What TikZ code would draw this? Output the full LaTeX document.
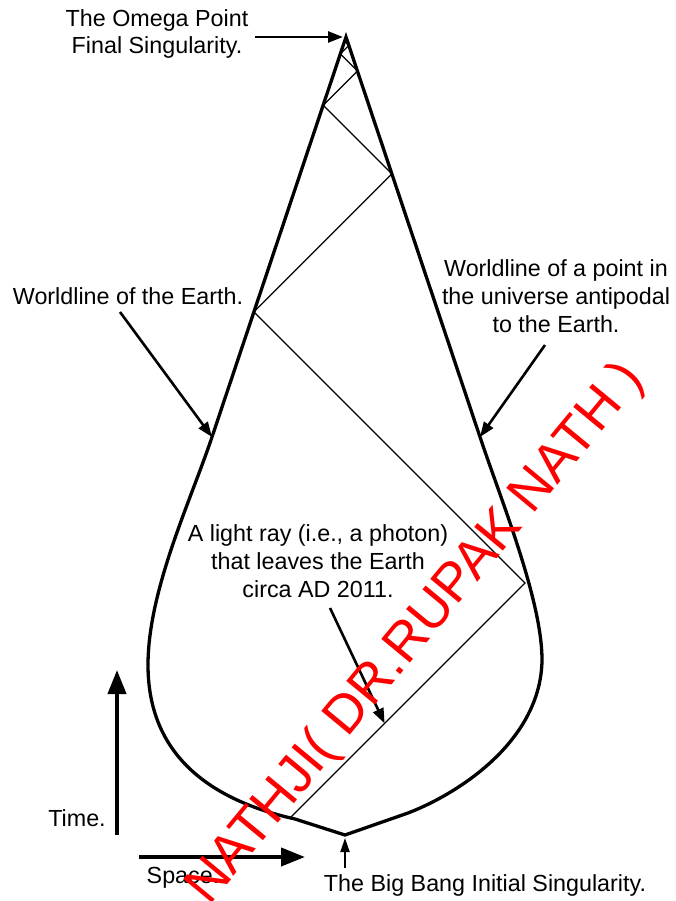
\documentclass[tikz,border=0pt]{standalone}
\usepackage{fontspec}
\setmainfont{Liberation Sans}
\usetikzlibrary{arrows.meta,calc}
\definecolor{wmred}{HTML}{FF0000}
\tikzset{
world/.style={line width=3.3pt,line join=miter},
ray/.style={line width=1.2pt},
lbl/.style={align=center,inner sep=0pt,font=\fontsize{23.3}{27.8}\selectfont},
callout/.style={-{Triangle[length=15pt,width=11pt]},line width=2.6pt},
axis/.style={-{Triangle[length=24pt,width=18pt]},line width=4pt},
tick/.style={-{Triangle[length=14pt,width=9pt]},line width=2pt},
wmark/.style={text=wmred,font=\fontsize{54}{62}\selectfont,anchor=base,rotate=50.4,inner sep=0pt}
}

\begin{document}
\begin{tikzpicture}[x=1pt,y=-1pt]
\useasboundingbox (0,0) rectangle (675,901);
\coordinate (apex) at (346,37);
\coordinate (cusp) at (345,835);
\coordinate (earthpt) at (212,437);
\coordinate (antipt) at (480,437);
\draw[world] (apex) -- (earthpt) .. controls (191,500) and (148,590) .. (148,665)
  .. controls (148,755) and (210,800) .. (295,819) -- (cusp) -- (408,813)
  .. controls (460,793) and (541,740) .. (542,660)
  .. controls (542,600) and (501,500) .. (antipt) -- cycle;
% light ray bouncing between the two worldlines
\coordinate (b0) at (291,817);
\coordinate (b1) at (525,583);
\coordinate (b2) at (253.9,311.9);
\coordinate (b3) at (391.9,173.9);
\coordinate (b4) at (323.2,105.2);
\coordinate (b5) at (357.4,71.0);
\coordinate (b6) at (340.3,53.9);
\coordinate (b7) at (348.8,45.4);
\coordinate (b8) at (344.6,41.2);
\coordinate (b9) at (346.7,39.1);
\draw[ray] (b0) -- (b1) -- (b2) -- (b3) -- (b4) -- (b5) -- (b6) -- (b7) -- (b8) -- (b9);
\coordinate (raypt) at ($(b0)!0.4!(b1)$);

\node[lbl] (omega) at (157,34) {The Omega Point\\Final Singularity.};
\node[lbl] (earthlbl) at (128,296) {Worldline of the Earth.};
\node[lbl] (antipodelbl) at (556,296) {Worldline of a point in\\the universe antipodal\\to the Earth.};
\node[lbl] (raylbl) at (318,561) {A light ray (i.e., a photon)\\that leaves the Earth\\circa AD 2011.};
\node[lbl] (timelbl) at (77,818) {Time.};
\node[lbl] (spacelbl) at (183,878) {Space.};
\node[lbl] (bigbanglbl) at (485,885) {The Big Bang Initial Singularity.};

\coordinate (omegatail) at (255,37);
\coordinate (earthtail) at (120,312);
\coordinate (antitail) at (545,345);
\coordinate (raytail) at (330,608);
\coordinate (timetail) at (117,835);
\coordinate (timehead) at (117,670);
\coordinate (spacetail) at (139,857);
\coordinate (spacehead) at (305,857);
\coordinate (bangtail) at (345,868);
\draw[callout] (omegatail) -- ([xshift=-3pt]apex);
\draw[callout] (earthtail) -- (earthpt);
\draw[callout] (antitail) -- (antipt);
\draw[callout] (raytail) -- (raypt);
\draw[axis] (timetail) -- (timehead);
\draw[axis] (spacetail) -- (spacehead);
\draw[tick] (bangtail) -- ([yshift=-3pt]cusp);

\node[wmark] (stamp) at (427,643) {NATHJI( DR.RUPAK NATH )};
\end{tikzpicture}
\end{document}
